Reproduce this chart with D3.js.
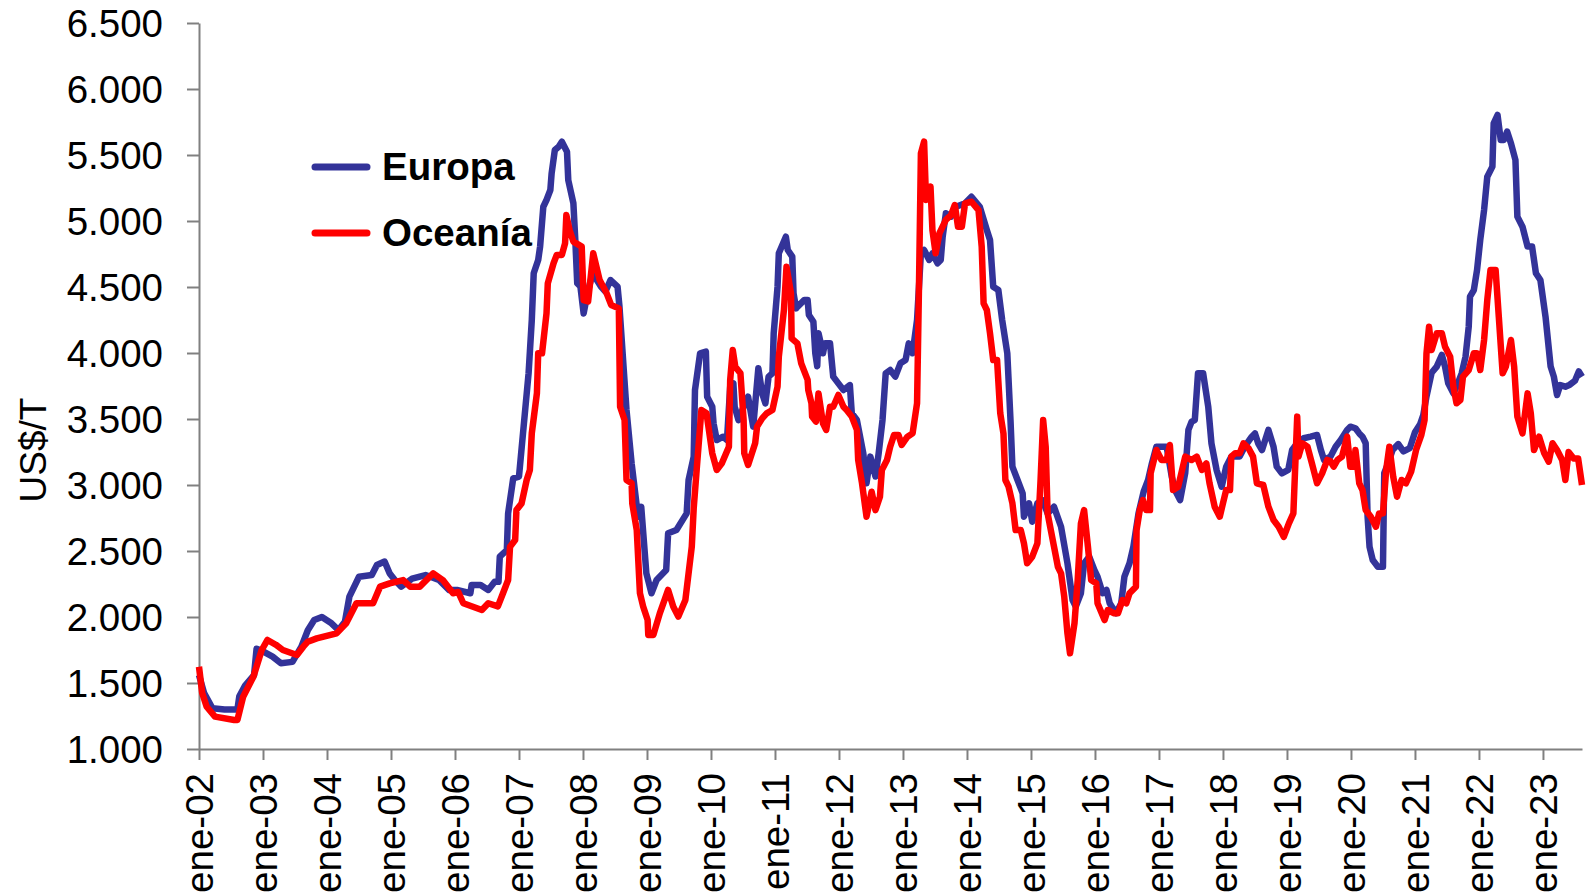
<!DOCTYPE html>
<html>
<head>
<meta charset="utf-8">
<script src="https://cdn.jsdelivr.net/npm/d3@7"></script>
<style>
  body { margin: 0; background: #fff; }
  text { font-family: "Liberation Sans", Arial, sans-serif; fill: #000; }
</style>
</head>
<body>
<script>
// precios en US$/T; primer valor = años transcurridos desde ene-02
var europa = [[0,1560],[0.08,1424],[0.21,1308],[0.4,1300],[0.6,1300],[0.63,1400],[0.72,1480],[0.86,1560],[0.9,1760],[1.0,1740],[1.15,1700],[1.28,1650],[1.46,1660],[1.6,1775],[1.7,1900],[1.8,1977],[1.92,2000],[2.07,1952],[2.18,1901],[2.28,1964],[2.35,2154],[2.5,2305],[2.7,2318],[2.78,2394],[2.9,2420],[2.98,2330],[3.06,2280],[3.16,2230],[3.33,2290],[3.54,2318],[3.75,2280],[3.91,2204],[4.03,2205],[4.24,2180],[4.26,2243],[4.4,2243],[4.52,2205],[4.62,2267],[4.68,2267],[4.7,2457],[4.81,2507],[4.83,2785],[4.91,3051],[5.0,3064],[5.07,3430],[5.15,3847],[5.2,4250],[5.23,4604],[5.3,4705],[5.33,4806],[5.38,5108],[5.43,5159],[5.49,5235],[5.51,5361],[5.56,5538],[5.62,5563],[5.67,5601],[5.75,5525],[5.77,5310],[5.85,5134],[5.88,4856],[5.91,4528],[5.96,4503],[6.01,4300],[6.07,4452],[6.15,4604],[6.28,4503],[6.35,4465],[6.43,4553],[6.54,4503],[6.57,4351],[6.68,3568],[6.76,3164],[6.86,2760],[6.91,2835],[6.99,2331],[7.07,2180],[7.15,2280],[7.3,2356],[7.33,2634],[7.46,2659],[7.62,2785],[7.65,3038],[7.73,3215],[7.75,3720],[7.83,3998],[7.92,4010],[7.94,3669],[8.02,3593],[8.04,3467],[8.09,3341],[8.19,3366],[8.25,3341],[8.3,3745],[8.35,3770],[8.37,3593],[8.43,3492],[8.51,3593],[8.58,3669],[8.66,3442],[8.74,3884],[8.8,3694],[8.85,3619],[8.9,3821],[8.96,3846],[8.98,4149],[9.04,4502],[9.06,4755],[9.17,4881],[9.2,4780],[9.27,4730],[9.29,4452],[9.33,4338],[9.35,4350],[9.46,4402],[9.51,4402],[9.53,4288],[9.6,4237],[9.63,3998],[9.66,3900],[9.68,4149],[9.75,3998],[9.78,4073],[9.86,4073],[9.91,3821],[9.99,3770],[10.07,3720],[10.17,3757],[10.2,3543],[10.28,3492],[10.38,3240],[10.43,3013],[10.49,3215],[10.57,3064],[10.62,3240],[10.68,3492],[10.73,3846],[10.8,3871],[10.88,3821],[10.96,3922],[11.04,3947],[11.09,4073],[11.15,3998],[11.22,4250],[11.28,4755],[11.33,4780],[11.41,4705],[11.46,4755],[11.54,4680],[11.59,4705],[11.62,4881],[11.67,5058],[11.75,5033],[11.83,5108],[11.97,5134],[12.07,5184],[12.2,5108],[12.31,4932],[12.36,4856],[12.41,4502],[12.49,4477],[12.55,4250],[12.63,3998],[12.68,3492],[12.71,3139],[12.79,3038],[12.87,2937],[12.89,2760],[12.97,2861],[13.02,2722],[13.1,2861],[13.18,2886],[13.26,2785],[13.36,2835],[13.47,2684],[13.57,2407],[13.65,2129],[13.7,2079],[13.78,2180],[13.83,2407],[13.91,2457],[13.99,2356],[14.04,2306],[14.12,2180],[14.18,2205],[14.23,2104],[14.33,2028],[14.41,2104],[14.46,2306],[14.54,2407],[14.6,2533],[14.68,2785],[14.76,2949],[14.83,3038],[14.89,3164],[14.96,3290],[15.12,3290],[15.2,3063],[15.25,2962],[15.33,2886],[15.41,3089],[15.46,3417],[15.51,3480],[15.56,3492],[15.61,3846],[15.69,3846],[15.77,3593],[15.82,3316],[15.9,3114],[15.98,2987],[16.05,3139],[16.13,3215],[16.26,3215],[16.34,3290],[16.45,3366],[16.5,3391],[16.55,3316],[16.61,3265],[16.71,3417],[16.79,3290],[16.84,3139],[16.92,3088],[17.02,3114],[17.08,3265],[17.16,3316],[17.26,3354],[17.37,3366],[17.47,3379],[17.53,3265],[17.58,3190],[17.68,3215],[17.76,3290],[17.84,3341],[17.94,3417],[17.99,3442],[18.07,3430],[18.13,3391],[18.18,3366],[18.23,3316],[18.26,2760],[18.29,2533],[18.34,2432],[18.42,2381],[18.5,2381],[18.52,3089],[18.58,3164],[18.65,3265],[18.74,3310],[18.82,3255],[18.92,3280],[19.0,3400],[19.08,3460],[19.13,3530],[19.18,3670],[19.26,3850],[19.34,3897],[19.42,3985],[19.47,3897],[19.52,3770],[19.6,3694],[19.65,3745],[19.73,3846],[19.79,3972],[19.84,4199],[19.86,4427],[19.92,4477],[19.97,4629],[20.02,4856],[20.08,5083],[20.13,5336],[20.21,5412],[20.23,5740],[20.29,5803],[20.34,5614],[20.39,5614],[20.44,5677],[20.5,5589],[20.57,5462],[20.6,5033],[20.68,4957],[20.76,4806],[20.83,4806],[20.89,4604],[20.96,4553],[21.04,4275],[21.12,3897],[21.17,3821],[21.22,3682],[21.27,3757],[21.35,3745],[21.42,3760],[21.5,3790],[21.56,3860],[21.61,3820]];

var oceania = [[0,1623],[0.05,1424],[0.12,1320],[0.25,1245],[0.55,1220],[0.6,1220],[0.69,1396],[0.85,1548],[0.98,1750],[1.07,1826],[1.2,1790],[1.31,1750],[1.53,1712],[1.63,1775],[1.7,1813],[1.84,1838],[2.15,1876],[2.3,1952],[2.46,2104],[2.72,2104],[2.83,2230],[2.98,2255],[3.19,2280],[3.3,2230],[3.45,2230],[3.66,2331],[3.81,2280],[3.97,2180],[4.05,2190],[4.13,2104],[4.42,2053],[4.52,2104],[4.67,2080],[4.75,2180],[4.83,2280],[4.86,2533],[4.94,2583],[4.96,2810],[5.04,2860],[5.12,3038],[5.17,3114],[5.2,3392],[5.28,3695],[5.3,3998],[5.36,3998],[5.43,4300],[5.45,4528],[5.54,4680],[5.59,4743],[5.67,4743],[5.72,4831],[5.74,5045],[5.79,4932],[5.85,4844],[5.98,4806],[6.01,4401],[6.08,4390],[6.16,4755],[6.26,4553],[6.37,4452],[6.44,4364],[6.56,4338],[6.58,3593],[6.65,3492],[6.68,3038],[6.76,3013],[6.77,2860],[6.84,2659],[6.89,2180],[6.94,2080],[7.01,1977],[7.02,1864],[7.1,1864],[7.2,2028],[7.33,2205],[7.41,2080],[7.49,2003],[7.6,2129],[7.7,2533],[7.73,2823],[7.78,3139],[7.85,3568],[7.93,3543],[8.02,3240],[8.09,3114],[8.17,3164],[8.28,3290],[8.3,3796],[8.34,4022],[8.38,3896],[8.46,3846],[8.51,3492],[8.52,3240],[8.58,3152],[8.69,3316],[8.72,3442],[8.8,3505],[8.87,3543],[8.96,3568],[9.04,3745],[9.06,3972],[9.14,4326],[9.18,4654],[9.25,4452],[9.26,4111],[9.35,4073],[9.41,3922],[9.51,3796],[9.52,3720],[9.57,3619],[9.58,3518],[9.64,3480],[9.68,3694],[9.75,3467],[9.8,3417],[9.86,3593],[9.91,3593],[9.99,3682],[10.07,3593],[10.12,3568],[10.2,3518],[10.28,3417],[10.3,3189],[10.36,3013],[10.43,2760],[10.51,2949],[10.57,2810],[10.64,2911],[10.67,3114],[10.75,3189],[10.8,3290],[10.86,3379],[10.93,3379],[10.98,3303],[11.07,3366],[11.15,3391],[11.22,3619],[11.25,4502],[11.28,5512],[11.33,5601],[11.36,5159],[11.43,5260],[11.46,4932],[11.51,4755],[11.57,4907],[11.67,5008],[11.75,5045],[11.81,5121],[11.86,4957],[11.92,4957],[11.97,5134],[12.07,5146],[12.18,5083],[12.23,4806],[12.26,4376],[12.31,4326],[12.36,4149],[12.41,3947],[12.47,3947],[12.52,3543],[12.57,3391],[12.6,3038],[12.65,2987],[12.71,2861],[12.76,2659],[12.84,2659],[12.89,2558],[12.94,2407],[13.02,2457],[13.1,2558],[13.15,3038],[13.19,3492],[13.23,3290],[13.26,2785],[13.31,2659],[13.36,2533],[13.42,2381],[13.47,2331],[13.52,2154],[13.57,1876],[13.61,1725],[13.68,1952],[13.73,2280],[13.78,2709],[13.83,2810],[13.89,2533],[13.94,2280],[14.02,2255],[14.04,2104],[14.15,1977],[14.2,2053],[14.3,2028],[14.36,2028],[14.43,2129],[14.49,2104],[14.54,2180],[14.64,2230],[14.65,2659],[14.7,2810],[14.75,2886],[14.8,2810],[14.86,2810],[14.87,3089],[14.96,3265],[15.04,3189],[15.12,3189],[15.17,3303],[15.22,2962],[15.3,2987],[15.41,3215],[15.51,3189],[15.59,3215],[15.67,3114],[15.74,3164],[15.79,3013],[15.87,2836],[15.95,2760],[16.0,2861],[16.05,2962],[16.11,2962],[16.13,3215],[16.19,3240],[16.26,3240],[16.32,3316],[16.4,3278],[16.47,3215],[16.53,3013],[16.63,3000],[16.71,2836],[16.79,2735],[16.87,2684],[16.95,2608],[17.03,2709],[17.1,2785],[17.16,3518],[17.18,3215],[17.24,3316],[17.32,3290],[17.39,3164],[17.47,3013],[17.55,3089],[17.63,3190],[17.68,3180],[17.73,3139],[17.79,3190],[17.86,3215],[17.94,3366],[17.99,3139],[18.05,3139],[18.07,3265],[18.13,3013],[18.18,2962],[18.23,2810],[18.31,2760],[18.39,2684],[18.44,2785],[18.5,2785],[18.55,3114],[18.6,3290],[18.66,3063],[18.72,2911],[18.79,3038],[18.86,3013],[18.94,3100],[19.02,3270],[19.1,3380],[19.15,3492],[19.18,3998],[19.22,4199],[19.26,4022],[19.34,4149],[19.42,4149],[19.47,4048],[19.55,3972],[19.6,3745],[19.65,3619],[19.71,3644],[19.75,3821],[19.84,3871],[19.92,3998],[19.97,3998],[20.02,3871],[20.08,4098],[20.13,4402],[20.18,4629],[20.26,4629],[20.31,4275],[20.37,3846],[20.42,3897],[20.5,4098],[20.55,3897],[20.6,3518],[20.68,3391],[20.76,3694],[20.81,3543],[20.86,3265],[20.94,3366],[21.02,3240],[21.09,3177],[21.15,3316],[21.22,3265],[21.3,3190],[21.35,3038],[21.4,3250],[21.48,3200],[21.55,3200],[21.61,3000]];

var etiquetasX = ["ene-02","ene-03","ene-04","ene-05","ene-06","ene-07","ene-08","ene-09","ene-10","ene-11","ene-12","ene-13","ene-14","ene-15","ene-16","ene-17","ene-18","ene-19","ene-20","ene-21","ene-22","ene-23"];
var valoresY = [1000,1500,2000,2500,3000,3500,4000,4500,5000,5500,6000,6500];
var nombres = ["Europa", "Oceanía"];
var colores = ["#333399", "#ff0000"];

var width = 1588, height = 896;
var margin = {top: 23, right: 6, bottom: 147, left: 199};

var svg = d3.select("body").append("svg")
    .attr("width", width)
    .attr("height", height);

var x = d3.scaleLinear()
    .domain([0, 21.61])
    .range([margin.left, width - margin.right]);

var y = d3.scaleLinear()
    .domain([1000, 6500])
    .range([height - margin.bottom, margin.top]);

// formato español: punto para miles
var es = d3.formatLocale({decimal: ",", thousands: ".", grouping: [3], currency: ["", " $"]});

// eje Y
var gy = svg.append("g")
    .attr("transform", "translate(" + margin.left + ",0)")
    .call(d3.axisLeft(y).tickValues(valoresY).tickFormat(es.format(",")).tickSize(12).tickPadding(24).tickSizeOuter(0));
gy.select(".domain").attr("stroke", "#808080").attr("stroke-width", 2);
gy.selectAll(".tick line").attr("stroke", "#808080").attr("stroke-width", 2);
gy.selectAll(".tick text").style("font-size", "38.5px").attr("dy", "0.36em");

// eje X
var gx = svg.append("g")
    .attr("transform", "translate(0," + (height - margin.bottom) + ")")
    .call(d3.axisBottom(x).tickValues(d3.range(etiquetasX.length))
      .tickFormat(function(d) { return etiquetasX[d]; })
      .tickSize(11).tickSizeOuter(0));
gx.select(".domain").attr("stroke", "#808080").attr("stroke-width", 2);
gx.selectAll(".tick line").attr("stroke", "#808080").attr("stroke-width", 2);
gx.selectAll(".tick text")
    .style("font-size", "38.5px")
    .attr("text-anchor", "end")
    .attr("transform", "rotate(-90)")
    .attr("x", -24)
    .attr("y", 0)
    .attr("dy", "0.36em");

// título eje Y
svg.append("text")
    .attr("transform", "translate(46,450) rotate(-90)")
    .attr("text-anchor", "middle")
    .style("font-size", "37px")
    .text("US$/T");

// líneas
var line = d3.line()
    .x(function(d) { return x(d[0]); })
    .y(function(d) { return y(d[1]); });

[europa, oceania].forEach(function(serie, i) {
  svg.append("path")
    .datum(serie)
    .attr("fill", "none")
    .attr("stroke", colores[i])
    .attr("stroke-width", 6.5)
    .attr("stroke-linejoin", "round")
    .attr("d", line);
});

// leyenda
var leg = svg.append("g");
nombres.forEach(function(n, i) {
  var ly = 167 + i * 66;
  leg.append("line")
    .attr("x1", 315).attr("x2", 367)
    .attr("y1", ly).attr("y2", ly)
    .attr("stroke", colores[i])
    .attr("stroke-width", 7)
    .attr("stroke-linecap", "round");
  leg.append("text")
    .attr("x", 382).attr("y", ly)
    .attr("dy", "0.35em")
    .style("font-size", "38.5px")
    .style("font-weight", "bold")
    .text(n);
});
</script>
</body>
</html>
